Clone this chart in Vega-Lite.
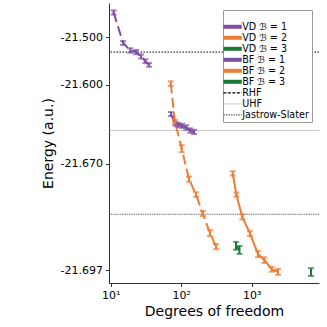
{
  "$schema": "https://vega.github.io/schema/vega-lite/v6.json",
  "width": 210,
  "height": 280,
  "autosize": {"type": "none"},
  "padding": {"left": 109, "top": 3, "right": 8, "bottom": 44},
  "config": {
    "view": {"stroke": null},
    "font": "DejaVu Sans",
    "axis": {
      "grid": false,
      "domainColor": "#333333",
      "tickColor": "#333333",
      "labelColor": "#000000",
      "titleColor": "#000000",
      "labelFont": "DejaVu Sans",
      "titleFont": "DejaVu Sans",
      "labelFontSize": 11,
      "titleFontSize": 14,
      "titleFontWeight": "normal",
      "tickSize": 3.5,
      "domainWidth": 1
    }
  },
  "datasets": {
    "pts": [
      {"series": "VD ℬ = 1", "method": "VD", "dof": 11, "E": -21.4181, "err": 0.0080},
      {"series": "VD ℬ = 1", "method": "VD", "dof": 15, "E": -21.5164, "err": 0.0052},
      {"series": "VD ℬ = 1", "method": "VD", "dof": 19, "E": -21.5355, "err": 0.0047},
      {"series": "VD ℬ = 1", "method": "VD", "dof": 23, "E": -21.5390, "err": 0.0046},
      {"series": "VD ℬ = 1", "method": "VD", "dof": 27, "E": -21.5486, "err": 0.0043},
      {"series": "VD ℬ = 1", "method": "VD", "dof": 31, "E": -21.5585, "err": 0.0041},
      {"series": "VD ℬ = 1", "method": "VD", "dof": 35, "E": -21.5664, "err": 0.0039},
      {"series": "BF ℬ = 1", "method": "BF", "dof": 71.5, "E": -21.6345, "err": 0.00196},
      {"series": "BF ℬ = 1", "method": "BF", "dof": 83, "E": -21.6438, "err": 0.0017},
      {"series": "BF ℬ = 1", "method": "BF", "dof": 91, "E": -21.6448, "err": 0.00167},
      {"series": "BF ℬ = 1", "method": "BF", "dof": 103, "E": -21.6455, "err": 0.00166},
      {"series": "BF ℬ = 1", "method": "BF", "dof": 118, "E": -21.6469, "err": 0.00161},
      {"series": "BF ℬ = 1", "method": "BF", "dof": 134, "E": -21.6490, "err": 0.00156},
      {"series": "BF ℬ = 1", "method": "BF", "dof": 152, "E": -21.6500, "err": 0.00153},
      {"series": "VD ℬ = 2", "method": "VD", "dof": 71, "E": -21.5980, "err": 0.0037},
      {"series": "VD ℬ = 2", "method": "VD", "dof": 81.7, "E": -21.6422, "err": 0.0020},
      {"series": "VD ℬ = 2", "method": "VD", "dof": 101.6, "E": -21.6616, "err": 0.0020},
      {"series": "VD ℬ = 2", "method": "VD", "dof": 129, "E": -21.6766, "err": 0.0011},
      {"series": "VD ℬ = 2", "method": "VD", "dof": 162, "E": -21.6821, "err": 0.0008},
      {"series": "VD ℬ = 2", "method": "VD", "dof": 202, "E": -21.6874, "err": 0.0006},
      {"series": "VD ℬ = 2", "method": "VD", "dof": 256, "E": -21.6916, "err": 0.00056},
      {"series": "VD ℬ = 2", "method": "VD", "dof": 312, "E": -21.6939, "err": 0.00042},
      {"series": "BF ℬ = 2", "method": "BF", "dof": 538, "E": -21.6741, "err": 0.00094},
      {"series": "BF ℬ = 2", "method": "BF", "dof": 605, "E": -21.6821, "err": 0.0007},
      {"series": "BF ℬ = 2", "method": "BF", "dof": 736, "E": -21.6882, "err": 0.00058},
      {"series": "BF ℬ = 2", "method": "BF", "dof": 946, "E": -21.6917, "err": 0.00046},
      {"series": "BF ℬ = 2", "method": "BF", "dof": 1229, "E": -21.6950, "err": 0.00042},
      {"series": "BF ℬ = 2", "method": "BF", "dof": 1509, "E": -21.6958, "err": 0.00036},
      {"series": "BF ℬ = 2", "method": "BF", "dof": 1922, "E": -21.6969, "err": 0.00028},
      {"series": "BF ℬ = 2", "method": "BF", "dof": 2360, "E": -21.6972, "err": 0.00032},
      {"series": "VD ℬ = 3", "method": "VD", "dof": 599, "E": -21.69375, "err": 0.00062},
      {"series": "VD ℬ = 3", "method": "VD", "dof": 671, "E": -21.6944, "err": 0.00058},
      {"series": "BF ℬ = 3", "method": "BF", "dof": 6935, "E": -21.6972, "err": 0.00042}
    ],
    "refs": [
      {"series": "RHF", "E": -21.539},
      {"series": "UHF", "E": -21.649},
      {"series": "Jastrow-Slater", "E": -21.6876}
    ]
  },
  "encoding": {
    "y": {
      "field": "E",
      "type": "quantitative",
      "scale": {
        "domain": [-21.698318, -21.6975, -21.697, -21.696, -21.695, -21.694, -21.692, -21.69, -21.687, -21.683, -21.678, -21.67, -21.66, -21.645, -21.625, -21.6, -21.57, -21.53, -21.48, -21.42, -21.3785],
        "range": [280, 271.68, 267.04, 258.56, 250.97, 244.11, 232.08, 221.78, 208.65, 194.2, 179.46, 160.77, 142.68, 121.97, 101.25, 81.67, 63.58, 44.89, 26.8, 9.78, 0],
        "nice": false,
        "zero": false
      },
      "axis": {
        "title": "Energy (a.u.)",
        "values": [-21.697, -21.67, -21.6, -21.5],
        "labelExpr": "'-' + format(abs(datum.value), '.3f')",
        "labelPadding": 3,
        "titlePadding": 5
      }
    },
    "color": {
      "field": "series",
      "type": "nominal",
      "scale": {
        "domain": ["VD ℬ = 1", "VD ℬ = 2", "VD ℬ = 3", "BF ℬ = 1", "BF ℬ = 2", "BF ℬ = 3", "RHF", "UHF", "Jastrow-Slater"],
        "range": ["#7d4ea2", "#f27a33", "#1b7837", "#7d4ea2", "#f27a33", "#1b7837", "#000000", "#aaaaaa", "#666666"]
      },
      "legend": {
        "orient": "top-right",
        "offset": 7.3,
        "title": " ",
        "titleFontSize": 4,
        "titlePadding": 5.5,
        "symbolType": "M-1.84,0H1.84",
        "symbolSize": 100,
        "symbolStrokeWidth": 4,
        "labelFontSize": 9.6,
        "labelFont": "DejaVu Sans",
        "labelColor": "#000000",
        "labelOffset": 4.8,
        "rowPadding": 0,
        "padding": 2.5,
        "strokeColor": "#999999",
        "fillColor": "#ffffff",
        "cornerRadius": 0,
        "symbolOffset": 2.3,
        "encode": {
          "symbols": {
            "update": {
              "strokeWidth": {"signal": "indexof(['RHF','UHF','Jastrow-Slater'], datum.value) >= 0 ? 1.2 : 4"},
              "strokeDash": {"signal": "datum.value == 'RHF' ? [3,1.5] : datum.value == 'UHF' ? [1,1] : datum.value == 'Jastrow-Slater' ? [1.5,1] : []"},
              "strokeJoin": {"value": "bevel"},
              "strokeCap": {"value": "butt"},
              "opacity": {"value": 1}
            }
          }
        }
      }
    }
  },
  "layer": [
    {
      "data": {"name": "refs"},
      "transform": [{"filter": {"field": "series", "equal": "RHF"}}],
      "mark": {"type": "rule", "strokeDash": [1.5, 1.5], "strokeWidth": 1}
    },
    {
      "data": {"name": "refs"},
      "transform": [{"filter": {"field": "series", "equal": "UHF"}}],
      "mark": {"type": "rule", "strokeDash": [1, 0.6], "strokeWidth": 1}
    },
    {
      "data": {"name": "refs"},
      "transform": [{"filter": {"field": "series", "equal": "Jastrow-Slater"}}],
      "mark": {"type": "rule", "strokeDash": [1.5, 0.8], "strokeWidth": 0.9}
    },
    {
      "data": {"name": "pts"},
      "mark": {"type": "line", "strokeWidth": 2},
      "encoding": {
        "x": {
          "field": "dof",
          "type": "quantitative",
          "scale": {"type": "log", "domain": [9.461, 9007], "nice": false},
          "axis": {
            "title": "Degrees of freedom",
            "values": [10, 100, 1000],
            "labelExpr": "datum.value == 10 ? '10¹' : datum.value == 100 ? '10²' : '10³'",
            "labelPadding": 3,
            "titlePadding": 4
          }
        },
        "strokeDash": {
          "field": "method",
          "type": "nominal",
          "scale": {"domain": ["VD", "BF"], "range": [[10, 4.5], [1, 0]]},
          "legend": null
        }
      }
    },
    {
      "data": {"name": "pts"},
      "mark": {"type": "errorbar", "ticks": true, "size": 6, "thickness": 2},
      "encoding": {
        "x": {"field": "dof", "type": "quantitative"},
        "yError": {"field": "err"}
      }
    }
  ]
}
